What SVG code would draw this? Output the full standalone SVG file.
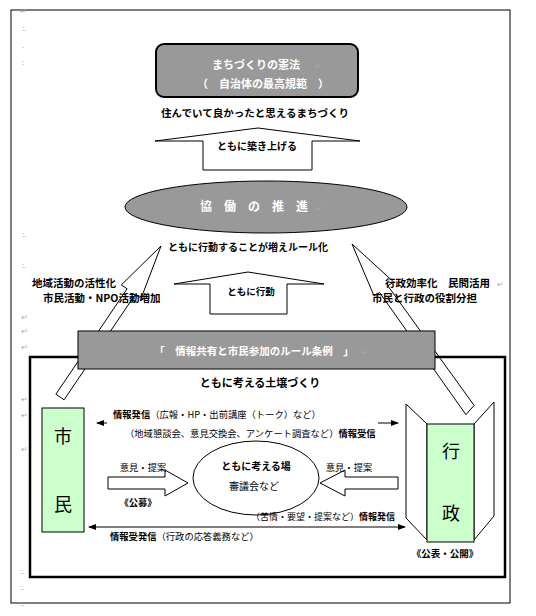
<svg xmlns="http://www.w3.org/2000/svg" width="536" height="616" viewBox="0 0 536 616">
<defs>
<style>
text{font-family:"Noto Sans CJK JP","Noto Sans CJK SC",sans-serif;fill:#000}
.b{font-weight:bold}
.w{fill:#fff}
.m{fill:#aaa;font-size:8px}
.blk{fill:#fff;stroke:#000;stroke-width:1}
.ln{stroke:#000;stroke-width:1;fill:none}
</style>
<marker id="ah" markerWidth="8" markerHeight="6" refX="7" refY="3" orient="auto-start-reverse" markerUnits="userSpaceOnUse">
<path d="M0,0 L8,3 L0,6 z" fill="#000"/>
</marker>
</defs>
<rect width="536" height="616" fill="#fff"/>
<rect x="11" y="10" width="499" height="593" fill="none" stroke="#000" stroke-width="1"/>

<g id="margin-marks">
<text class="m" x="20" y="14">↵</text>
<text class="m" x="22" y="31">:.</text>
<text class="m" x="22" y="48">.</text>
<text class="m" x="22" y="65">:</text>
<text class="m" x="22" y="237">:.</text>
<text class="m" x="22" y="268">:.</text>
<text class="m" x="21" y="320">↵</text>
<text class="m" x="21" y="334">↵</text>
<text class="m" x="21" y="350">↵</text>
<text class="m" x="21" y="402">↵</text>
<text class="m" x="21" y="418">↵</text>
<text class="m" x="21" y="452">↵</text>
<text class="m" x="20" y="574">:.</text>
<text class="m" x="20" y="590">:.</text>
<text class="m" x="20" y="606">:.</text>
</g>

<g id="top-box">
<rect x="156" y="44" width="202" height="53" rx="8" fill="#999" stroke="#000" stroke-width="2"/>
<text class="w b" x="212" y="69" font-size="11">まちづくりの憲法</text>
<text class="m" x="314" y="69">↵</text>
<text class="w b" x="197" y="88" font-size="11">（　自治体の最高規範　）</text>
</g>

<text class="b" x="255" y="117" font-size="10.5" text-anchor="middle">住んでいて良かったと思えるまちづくり</text>

<g id="connectors">
<polygon class="blk" points="258,128 360,141 312,141 312,170 203,170 203,141 155,141"/>
<polygon class="blk" points="248,272 324,284 287,284 287,314 210,314 210,284 174,284"/>
<polygon class="blk" points="161,246 121.3,284.9 127.1,288.8 55.9,394.2 64.1,399.8 135.3,294.4 141.1,298.3"/>
<polygon class="blk" points="352,244 393.6,281.9 387.9,285.9 474.1,405.4 465.9,414.6 379.7,292.7 374,295.7"/>
<line class="ln" x1="107" y1="423" x2="97" y2="423" marker-end="url(#ah)"/>
<line class="ln" x1="378" y1="423" x2="398" y2="423" marker-end="url(#ah)"/>
<line class="ln" x1="89" y1="527" x2="405" y2="527" marker-start="url(#ah)" marker-end="url(#ah)"/>
<polygon class="blk" points="108,477 165,477 165,470 188,483 165,496 165,489 108,489"/>
<polygon class="blk" points="398,477 345,477 345,470 320,483 345,496 345,489 398,489"/>
</g>

<text class="b" x="257" y="150" font-size="10" text-anchor="middle">ともに築き上げる</text>

<g id="kyodo">
<ellipse cx="266" cy="207" rx="141" ry="26" fill="#999" stroke="#000" stroke-width="1"/>
<text class="w b" x="200" y="211" font-size="12">協　働　の　推　進</text>
<text class="m" x="316" y="211">↵</text>
</g>

<text class="b" x="248" y="251" font-size="10" text-anchor="middle">ともに行動することが増えルール化</text>
<text class="b" x="251" y="295" font-size="9.5" text-anchor="middle">ともに行動</text>

<g id="left-text">
<text class="b" x="32" y="287" font-size="10.5">地域活動の活性化</text>
<text class="b" x="43" y="302" font-size="10.5">市民活動・NPO活動増加</text>
</g>
<g id="right-text">
<text class="b" x="385" y="287" font-size="10.5">行政効率化　民間活用</text>
<text class="m" x="497" y="287">↵</text>
<text class="b" x="372" y="302" font-size="10.5">市民と行政の役割分担</text>
</g>

<g id="frame">
<rect x="30" y="357" width="475" height="220" fill="none" stroke="#000" stroke-width="2.5"/>
</g>

<g id="jorei">
<rect x="78" y="331" width="357" height="38" fill="#999" stroke="#000" stroke-width="1"/>
<text class="w b" x="254" y="355" font-size="10.5" text-anchor="middle">「　情報共有と市民参加のルール条例　」</text>
<text class="m" x="362" y="355">↵</text>
</g>

<text class="b" x="260" y="387" font-size="11" text-anchor="middle">ともに考える土壌づくり</text>

<g id="shimin">
<rect x="42" y="408" width="42" height="124" fill="#ccffcc" stroke="#000" stroke-width="1"/>
<text x="63" y="443" font-size="18" text-anchor="middle">市</text>
<text x="63" y="511" font-size="18" text-anchor="middle">民</text>
</g>

<g id="gyosei">
<polygon points="406,404 427,424 427,540 406,518" fill="#fff" stroke="#000" stroke-width="1"/>
<polygon points="494,402 474,424 474,540 494,516" fill="#fff" stroke="#000" stroke-width="1"/>
<rect x="427" y="424" width="47" height="118" fill="#ccffcc" stroke="#000" stroke-width="1"/>
<text x="451" y="458" font-size="18" text-anchor="middle">行</text>
<text x="451" y="520" font-size="18" text-anchor="middle">政</text>
</g>
<text class="b" x="445" y="557" font-size="9.5" text-anchor="middle">《公表・公開》</text>

<g id="ba">
<ellipse cx="256" cy="478" rx="63" ry="37" fill="#fff" stroke="#000" stroke-width="1"/>
<text class="b" x="256" y="470" font-size="10" text-anchor="middle">ともに考える場</text>
<text x="254" y="490" font-size="10" text-anchor="middle">審議会など</text>
</g>

<g id="labels">
<text x="113" y="418" font-size="9.3"><tspan class="b">情報発信</tspan>（広報・HP・出前講座（トーク）など）</text>
<text x="125" y="437" font-size="9.3">（地域懇談会、意見交換会、アンケート調査など）<tspan class="b">情報受信</tspan></text>
<text x="143" y="471" font-size="9.3" text-anchor="middle">意見・提案</text>
<text class="b" x="138" y="506" font-size="9.3" text-anchor="middle">《公募》</text>
<text x="349" y="471" font-size="9.3" text-anchor="middle">意見・提案</text>
<text x="395" y="520" font-size="9" text-anchor="end">（苦情・要望・提案など）<tspan class="b">情報発信</tspan></text>
<text x="110" y="540" font-size="9.3"><tspan class="b">情報受発信</tspan>（行政の応答義務など）</text>
</g>
</svg>
